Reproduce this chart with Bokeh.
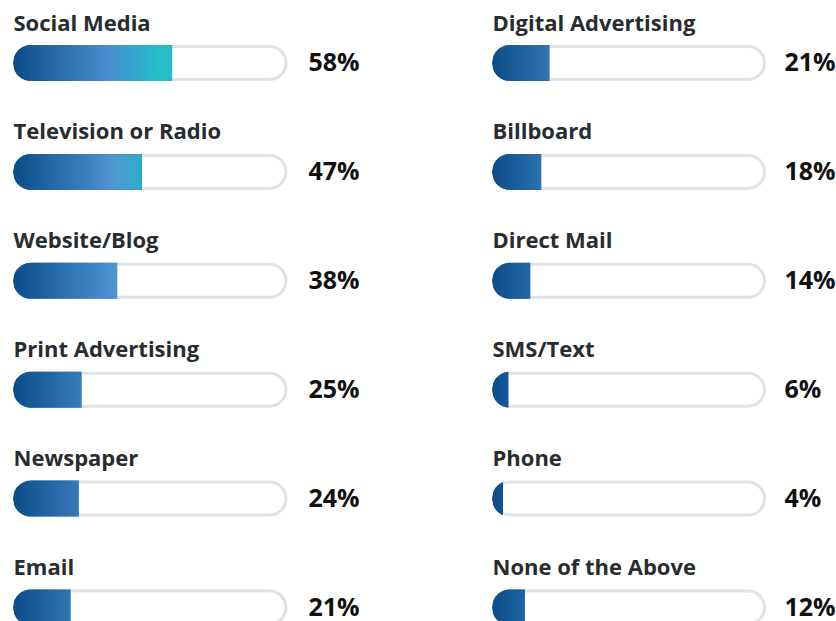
from bokeh.plotting import figure
from bokeh.models import Range1d
from bokeh.embed import file_html
from bokeh.resources import INLINE
from bokeh.core.properties import value
import math

# ---- data ----
left_labels = ["Social Media", "Television or Radio", "Website/Blog",
               "Print Advertising", "Newspaper", "Email"]
left_values = [58, 47, 38, 25, 24, 21]
right_labels = ["Digital Advertising", "Billboard", "Direct Mail",
                "SMS/Text", "Phone", "None of the Above"]
right_values = [21, 18, 14, 6, 4, 12]

# ---- layout (pixels) ----
W, H = 836, 621
COLS = [dict(x0=12.5, x1=287.0, px=308.0), dict(x0=491.5, x1=765.5, px=784.0)]
ROW0, ROWSTEP = 62.5, 108.9
BAR_H = 36.0
R = BAR_H / 2
BORDER = 3.0

STOPS = [(0.0, (11, 77, 137)), (35.0, (74, 143, 208)), (53.0, (29, 188, 198))]


def ramp(pct):
    if pct <= STOPS[0][0]:
        c = STOPS[0][1]
    elif pct >= STOPS[-1][0]:
        c = STOPS[-1][1]
    else:
        for (a, ca), (b, cb) in zip(STOPS[:-1], STOPS[1:]):
            if a <= pct <= b:
                t = (pct - a) / (b - a)
                c = tuple(ca[i] + (cb[i] - ca[i]) * t for i in range(3))
                break
    return "#%02x%02x%02x" % tuple(int(round(v)) for v in c)


p = figure(width=W, height=H, output_backend="svg", toolbar_location=None,
           x_range=Range1d(0, W), y_range=Range1d(H, 0),
           x_axis_location=None, y_axis_location=None, min_border=0,
           background_fill_color="white", border_fill_color="white")
p.outline_line_color = None
p.xgrid.visible = False
p.ygrid.visible = False

track_xs, track_ys = [], []
slice_xs, slice_ys, slice_c = [], [], []
lab_x, lab_y, lab_t = [], [], []
pct_x, pct_y, pct_t = [], [], []

for col, labels, vals in ((COLS[0], left_labels, left_values),
                          (COLS[1], right_labels, right_values)):
    x0, x1 = col["x0"], col["x1"]
    tw = x1 - x0
    for i, (lab, v) in enumerate(zip(labels, vals)):
        yc = ROW0 + i * ROWSTEP
        track_xs.append([x0 + R, x1 - R])
        track_ys.append([yc, yc])
        xe = x0 + v / 100.0 * tw

        def half(x):
            d = x0 + R - x
            if d <= 0:
                return R
            return math.sqrt(max(R * R - d * d, 0.0))

        n = max(1, int(math.ceil(xe - x0)))
        step = (xe - x0) / n
        for k in range(n):
            a = x0 + k * step
            b = min(a + step + 0.6, xe)
            ha, hb = half(a), half(b)
            slice_xs.append([a, b, b, a])
            slice_ys.append([yc - ha, yc - hb, yc + hb, yc + ha])
            mid = (a + step / 2 - x0) / tw * 100.0
            slice_c.append(ramp(mid))
        lab_x.append(x0 + 0.5)
        lab_y.append(yc - 41.5)
        lab_t.append(lab)
        pct_x.append(col["px"])
        pct_y.append(yc - 2.0)
        pct_t.append(f"{v}%")

p.multi_line(track_xs, track_ys, line_color="#dfe3e3", line_width=BAR_H,
             line_cap="round")
p.multi_line(track_xs, track_ys, line_color="white",
             line_width=BAR_H - 2 * BORDER, line_cap="round")
p.patches(slice_xs, slice_ys, fill_color=slice_c, line_color=None)

p.text(lab_x, lab_y, text=lab_t, text_font=value("Open Sans"),
       text_font_style="bold", text_font_size="22px", text_color="#272c2f",
       text_baseline="alphabetic", text_align="left")
p.text(pct_x, pct_y, text=pct_t, text_font=value("Open Sans"),
       text_font_style="bold", text_font_size="25px", text_color="#111111",
       text_baseline="alphabetic", text_align="left")

open("out.html", "w").write(file_html(p, INLINE))
